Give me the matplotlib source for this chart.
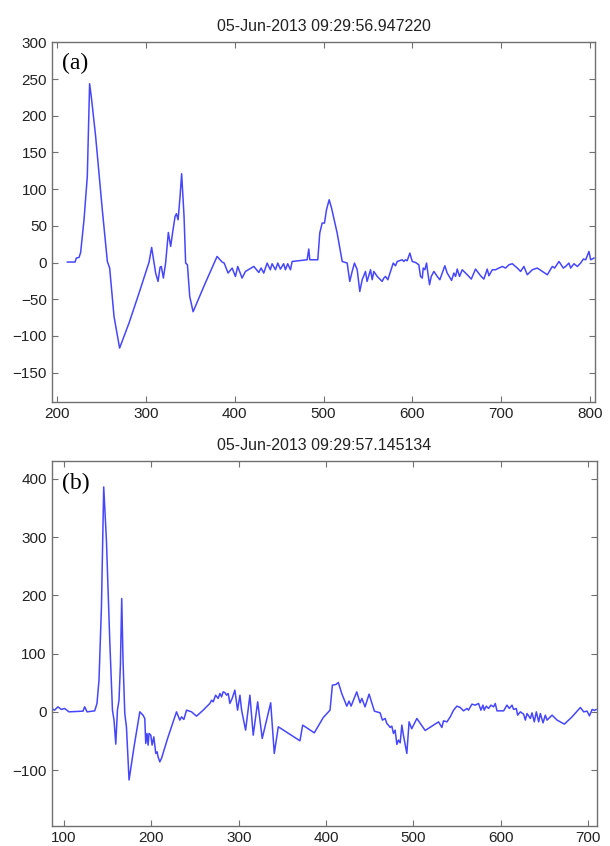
#!/usr/bin/env python3
"""
Two stacked signal traces, MATLAB-like styling
"""

import numpy as np
import matplotlib.pyplot as plt

# ---- panel (a) ----
title_a = '05-Jun-2013 09:29:56.947220'
x_a = [211.3, 220, 221.4, 224.5, 226.3, 230.1, 233.8, 236.4, 238.7, 243.2,
       250.7, 256.4, 259, 263.9, 270.2, 280.8, 292.1, 303.4, 306.3, 310.8,
       313.5, 315.8, 317.2, 319.5, 322.1, 325.1, 327.7, 330.4, 332.7, 334.2,
       336.1, 338.3, 340.1, 342.8, 344.6, 346.6, 349.2, 353, 366, 380,
       385.7, 388, 392.4, 397, 400.7, 403.3, 408.2, 412, 421.4, 427,
       429.6, 432.6, 436.4, 440, 442, 445.8, 448.4, 451.4, 455, 457,
       459.6, 462.7, 464.6, 481.5, 483.3, 484.5, 493.5, 495.7, 498.4, 501,
       503.3, 506.3, 509, 515.3, 521, 526.6, 529.5, 532.2, 534.8, 537.9,
       540.8, 543.5, 547.2, 549, 552.9, 554.8, 556.6, 560.4, 566, 567.9,
       569.8, 572.4, 578.5, 581, 583, 588.6, 590.4, 592.3, 594.2, 597.2,
       599.9, 603.6, 607.3, 609.2, 611.2, 612.3, 614.1, 616, 617.5, 619.4,
       621.3, 624.3, 628.1, 631, 636.6, 639.3, 644.2, 646.8, 648.7, 650.6,
       653.2, 656.2, 661.9, 666.4, 671.2, 676.9, 680.6, 684.4, 686.3, 690.1,
       693.8, 697.5, 701.4, 705.1, 708.8, 712.6, 718.3, 722, 725.7, 729.5,
       735.2, 740.8, 746.4, 752.1, 757.7, 760.3, 765.2, 770.1, 772.7, 776.4,
       778.4, 782.1, 785.9, 789.6, 792.7, 795.3, 799, 800.9, 804.6]
y_a = [0.7, 0.7, 6.1, 7, 13.8, 58.3, 117.3, 243.6, 221.8, 171.8,
       71.9, 1.5, -7.5, -73.4, -116.5, -82.4, -41.6, 0.7, 20.6, -14.3,
       -25.7, -6.2, -5.3, -21.1, 0.1, 41, 22, 44.7, 62.8, 66.5,
       58.3, 90, 121, 62.8, -0.7, -3, -46.2, -67, -30, 8.3,
       0.7, -0.7, -14.3, -7.5, -18.9, -5.3, -21.1, -12.1, -5.3, -13.5,
       -7.5, -14.3, -0.7, -9.8, -1.6, -9.8, -0.7, -8.9, -1.6, -9.8,
       -1.6, -9.8, 1.5, 3.8, 18.4, 3.8, 3.8, 40.2, 53.8, 53.8,
       71.9, 85.6, 74.2, 40.2, 1.5, -0.7, -25.7, -12.1, -0.7, -9.8,
       -39.4, -23.4, -12.1, -25.7, -9.8, -23.4, -12.1, -18.9, -25.7, -21.1,
       -18.9, -23.4, -0.7, -4.4, 1.5, 3.8, 1.5, 3.8, 2.5, 12.9,
       1.5, 0.1, -3, -18.9, -21.1, -7.5, -9.8, -0.7, -14.3, -30.2,
       -18.9, -12.1, -18.9, -23.4, -4.4, -14.3, -24.3, -14.3, -18.9, -8.9,
       -18.9, -9.8, -16.6, -22.5, -8.9, -18, -22.5, -8.9, -18, -9.8,
       -9.8, -7.5, -5.3, -7.5, -3, -1.6, -7.5, -12.1, -5.3, -16.6,
       -9.8, -7.5, -12.1, -16.6, -5.3, -7.5, 1.5, -7.5, -5.3, -0.7,
       -7.5, -1.6, -5.3, -0.7, 4.8, 3.8, 15.1, 3.8, 6.1]
xticks_a = [200, 300, 400, 500, 600, 700, 800]
yticks_a = [-150, -100, -50, 0, 50, 100, 150, 200, 250, 300]

# ---- panel (b) ----
title_b = '05-Jun-2013 09:29:57.145134'
x_b = [85.6, 89.3, 93.1, 97, 100.8, 105.7, 121.8, 123.7, 126.4, 135.2,
       137.8, 140.1, 142.9, 145.5, 148.6, 152.4, 155.5, 157.3, 159.3, 161.2,
       163, 164.6, 166.1, 167.6, 169.6, 171.5, 174.5, 180.2, 186.8, 190.5,
       192.5, 193.6, 195.1, 196.3, 197.4, 199.4, 200.9, 202.8, 205.1, 206.6,
       207.7, 209.7, 211.6, 219.2, 228.8, 232.6, 234.6, 237.2, 240.3, 246,
       251.7, 259.3, 267, 269, 270.8, 273.6, 276.5, 278.5, 280.4, 282.2,
       284.2, 286.1, 288, 289.9, 292.5, 295.6, 298.7, 301.4, 303.3, 307.9,
       312.8, 316.6, 321.7, 326.9, 336.6, 340.7, 345.3, 370.1, 373.2, 386.5,
       396.8, 404.5, 407.2, 411.4, 414, 417.9, 423.7, 426.3, 428.6, 435.1,
       438.9, 440.9, 444.6, 449.2, 455.3, 461.8, 464.5, 467.6, 469.5, 471.3,
       473.3, 475.2, 477.1, 479, 481, 482.8, 484.8, 486.7, 488.5, 492.4,
       495, 498, 503.9, 513.4, 528.7, 532.5, 534.4, 538.3, 542.1, 545.9,
       549.7, 553.5, 557.3, 561.2, 563, 566.9, 570.7, 574.5, 577.2, 579.5,
       581, 583.3, 585.9, 588.7, 591.7, 593.6, 595.6, 603.2, 607, 609.7,
       612.8, 614.6, 617.7, 619.2, 622.3, 626.1, 628, 630, 633.8, 635.7,
       638.3, 640.6, 643.3, 645.2, 648.3, 650.9, 652.9, 658.6, 664.4, 672.7,
       681.5, 691, 694.8, 698.7, 701.4, 704.5, 707.1, 709]
y_b = [5.8, 2.9, 8.6, 4.1, 5.8, 0, 1.2, 8.6, 0, 1.7,
       14.4, 54.4, 180, 386, 294.5, 123, 2.9, -14.2, -55.4, 2.9,
       20, 80, 194.5, 88.7, -2.9, -25.7, -117, -60, 0, -5.7,
       -11.4, -54.3, -37.1, -57.1, -37.1, -40, -57.1, -42.9, -71.4, -68.6,
       -77.2, -85.8, -80, -42.9, 0, -14.2, -8.6, -13.1, 2.9, 0,
       -7.4, 2.9, 14.4, 20, 17.2, 28.6, 23, 31.5, 25.7, 34.3,
       33, 28.6, 31.5, 14.4, 23, 37.2, 2.9, 28.6, 2.9, -31.4,
       28.6, -40, 17.2, -45.7, 15.5, -71.4, -25.7, -49.7, -22.8, -36,
       -9.7, 2.9, 45.8, 47, 50.4, 31.5, 9.8, 18.4, 9.8, 34.3,
       15.5, 23, 8.6, 30.4, 1.2, -1.7, -14.2, -11.4, -20, -22.8,
       -26.8, -24.5, -37.1, -31.4, -55.9, -48.5, -53.2, -22.8, -40, -71.4,
       -17.2, -29, -11.4, -32, -17.2, -26.8, -15.4, -17.2, -8.6, 2.9,
       9.8, 7.5, 1.7, 5.8, 2.9, 13.2, 11.5, 14.4, 2.9, 11.5,
       2.9, 9.8, 5.8, 11.5, 8.6, 14.4, 1.7, 1.7, 11.5, 5.8,
       11.5, 4.1, 5.8, -5.7, 0, -4, -14.2, -2.9, -11.4, -1.7,
       -17.2, 0, -17.2, -2.9, -18.9, -5.7, -14.2, -5.7, -14.2, -21.1,
       -8.6, 7.5, 0, 1.2, -6.9, 4.1, 2.4, 4]
xticks_b = [100, 200, 300, 400, 500, 600, 700]
yticks_b = [-100, 0, 100, 200, 300, 400]

LINE_COLOR = '#4646ff'
AXIS_COLOR = '#707070'


def style_axes(ax, xlim, ylim, xticks, yticks, title, label):
    """MATLAB-ish box: inward ticks on all four sides"""
    ax.set_xlim(*xlim)
    ax.set_ylim(*ylim)
    ax.set_xticks(xticks)
    ax.set_yticks(yticks)
    for s in ax.spines.values():
        s.set_color(AXIS_COLOR)
        s.set_linewidth(1.0)
    ax.tick_params(direction='in', top=True, right=True, length=4,
                   width=0.8, color=AXIS_COLOR, labelsize=11,
                   labelcolor='#222222', pad=3.5)
    ax.set_title(title, fontsize=11.5, color='#222222', pad=8)
    ax.text(0.018, 0.968, label, transform=ax.transAxes, ha='left', va='top',
            fontsize=17, family='Liberation Serif', color='black')


plt.rcParams['font.family'] = ['Liberation Sans', 'DejaVu Sans']

fig = plt.figure(figsize=(6.1, 8.46), dpi=100)

ax1 = fig.add_axes([0.0852, 0.5248, 0.8905, 0.4260])
ax1.plot(x_a, y_a, color=LINE_COLOR, linewidth=1.1)
style_axes(ax1, (194, 806), (-190, 301), xticks_a, yticks_a, title_a, '(a)')

ax2 = fig.add_axes([0.0848, 0.0236, 0.8931, 0.4318])
ax2.plot(x_b, y_b, color=LINE_COLOR, linewidth=1.1)
style_axes(ax2, (86, 709.5), (-196, 431), xticks_b, yticks_b, title_b, '(b)')

plt.savefig('out.png', dpi=100)
